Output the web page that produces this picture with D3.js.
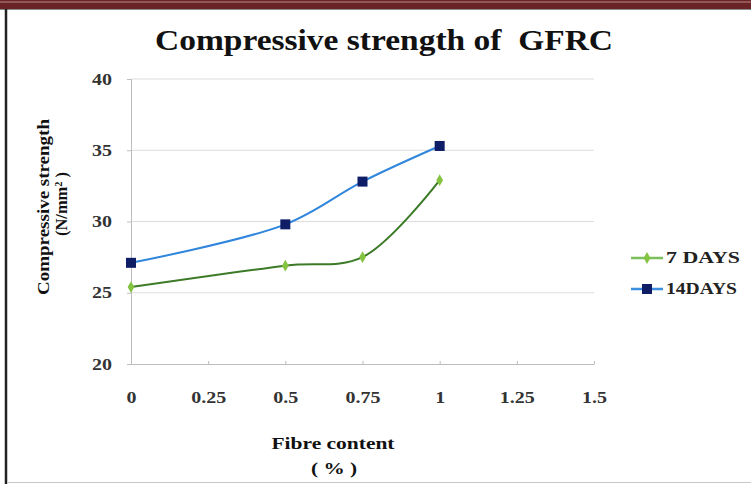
<!DOCTYPE html>
<html>
<head>
<meta charset="utf-8">
<script src="https://cdn.jsdelivr.net/npm/d3@7"></script>
<style>
  html, body { margin: 0; padding: 0; background: #fff; }
  svg { display: block; }
</style>
</head>
<body>
<svg id="chart" width="751" height="484"></svg>
<script>
// Fibre content (%) on the x axis
const fibreContent = [0, 0.5, 0.75, 1];
// Compressive strength (N/mm²)
const days7 = [25.4, 26.9, 27.5, 32.9];
const days14 = [27.1, 29.8, 32.8, 35.3];
const xTicks = [0, 0.25, 0.5, 0.75, 1, 1.25, 1.5];
const yTicks = [20, 25, 30, 35, 40];
const seriesNames = ["7 DAYS", "14DAYS"];

const svg = d3.select("#chart");
const W = 751, H = 484;
const serif = "'Liberation Serif', 'Times New Roman', serif";
const WIDE = 1.25; // horizontal widening of the bold serif lettering

// label helper: bold serif text fitted to a given run length
function label(parent, txt, size, len, anchor) {
  return parent.append("text")
    .attr("font-family", serif).attr("font-size", size).attr("font-weight", "bold")
    .attr("fill", "#111").attr("text-anchor", anchor || "middle")
    .attr("xml:space", "preserve")
    .attr("textLength", len).attr("lengthAdjust", "spacingAndGlyphs")
    .text(txt);
}

// page frame: dark red band on top, rule on the left and bottom
svg.append("rect").attr("x", 0).attr("y", 0).attr("width", W).attr("height", 9).attr("fill", "#6a2426");
svg.append("line").attr("x1", 0).attr("x2", W).attr("y1", 2).attr("y2", 2).attr("stroke", "#b9898a").attr("stroke-width", 1);
svg.append("line").attr("x1", 0).attr("x2", W).attr("y1", 9.5).attr("y2", 9.5).attr("stroke", "#8a8a8a").attr("stroke-width", 1);
svg.append("line").attr("x1", 6).attr("x2", 6).attr("y1", 9).attr("y2", H).attr("stroke", "#222").attr("stroke-width", 2.5);
svg.append("line").attr("x1", 7).attr("x2", W).attr("y1", 482.5).attr("y2", 482.5).attr("stroke", "#c8c8c8").attr("stroke-width", 1);

const x = d3.scaleLinear().domain([0, 1.5]).range([131, 594]);
const y = d3.scaleLinear().domain([20, 40]).range([364, 79]);

// horizontal gridlines
svg.append("g").selectAll("line").data(yTicks.filter(t => t > 20)).join("line")
  .attr("x1", x(0)).attr("x2", x(1.5))
  .attr("y1", d => y(d)).attr("y2", d => y(d))
  .attr("stroke", "#dcdcdc").attr("stroke-width", 1);

// y axis
const yAxis = svg.append("g").attr("transform", `translate(${x(0)},0)`)
  .call(d3.axisLeft(y).tickValues(yTicks).tickSize(4).tickPadding(15).tickFormat(d3.format("d")));
yAxis.select(".domain").attr("stroke", "#bdbdbd");
yAxis.selectAll(".tick line").attr("stroke", "#bdbdbd");
yAxis.selectAll("text")
  .attr("font-family", serif).attr("font-size", 16).attr("font-weight", "bold").attr("fill", "#333")
  .attr("x", -19 / WIDE).attr("transform", `scale(${WIDE},1)`);

// x axis (ticks point up into the plot)
const xAxis = svg.append("g").attr("transform", `translate(0,${y(20)})`)
  .call(d3.axisBottom(x).tickValues(xTicks).tickSizeInner(-3).tickSizeOuter(0).tickPadding(28).tickFormat(d => String(d)));
xAxis.select(".domain").attr("stroke", "#bdbdbd");
xAxis.selectAll(".tick line").attr("stroke", "#bdbdbd");
xAxis.selectAll("text")
  .attr("font-family", serif).attr("font-size", 16).attr("font-weight", "bold").attr("fill", "#333")
  .attr("transform", `scale(${WIDE},1)`);

// series lines, smoothed
const line = d3.line().x(d => x(d[0])).y(d => y(d[1])).curve(d3.curveCatmullRom.alpha(0.5));
const pts7 = fibreContent.map((f, i) => [f, days7[i]]);
const pts14 = fibreContent.map((f, i) => [f, days14[i]]);

svg.append("path").attr("d", line(pts14)).attr("fill", "none").attr("stroke", "#2f86dc").attr("stroke-width", 2);
svg.append("path").attr("d", line(pts7)).attr("fill", "none").attr("stroke", "#3b7a26").attr("stroke-width", 2);

// markers
svg.append("g").selectAll("rect").data(pts14).join("rect")
  .attr("x", d => x(d[0]) - 5).attr("y", d => y(d[1]) - 5)
  .attr("width", 10).attr("height", 10).attr("fill", "#0e1d66");
svg.append("g").selectAll("path").data(pts7).join("path")
  .attr("d", d3.symbol(d3.symbolDiamond, 40))
  .attr("transform", d => `translate(${x(d[0])},${y(d[1])})`)
  .attr("fill", "#84c441");

// title
label(svg, "Compressive strength of  GFRC", 29, 458).attr("x", 384).attr("y", 50);

// y axis title, two lines
label(svg, "Compressive strength", 16, 176).attr("transform", "translate(49,207) rotate(-90)");
const yt2 = svg.append("text").attr("transform", "translate(67,204) rotate(-90)")
  .attr("font-family", serif).attr("font-size", 16).attr("font-weight", "bold").attr("fill", "#111")
  .attr("text-anchor", "middle").attr("textLength", 64).attr("lengthAdjust", "spacingAndGlyphs");
yt2.append("tspan").text("(N/mm");
yt2.append("tspan").attr("dy", -5).attr("font-size", 10).text("2");
yt2.append("tspan").attr("dy", 5).text(" )");

// x axis title, two lines
label(svg, "Fibre content", 16, 123).attr("x", 333).attr("y", 449);
label(svg, "( % )", 16, 46).attr("x", 334).attr("y", 474);

// legend
const legend = svg.append("g");
const legendItems = [
  { name: seriesNames[0], line: "#7bbf5a", marker: "diamond", fill: "#84c441", yy: 258, len: 74 },
  { name: seriesNames[1], line: "#3d8fe0", marker: "square", fill: "#0e1d66", yy: 289, len: 71 }
];
legendItems.forEach(it => {
  legend.append("line").attr("x1", 631).attr("x2", 663).attr("y1", it.yy).attr("y2", it.yy)
    .attr("stroke", it.line).attr("stroke-width", 2.5);
  if (it.marker === "square") {
    legend.append("rect").attr("x", 642).attr("y", it.yy - 5).attr("width", 10).attr("height", 10).attr("fill", it.fill);
  } else {
    legend.append("path").attr("d", d3.symbol(d3.symbolDiamond, 40)).attr("transform", `translate(647,${it.yy})`).attr("fill", it.fill);
  }
  label(legend, it.name, 16, it.len, "start").attr("x", 666).attr("y", it.yy + 5).attr("fill", "#222");
});
</script>
</body>
</html>
